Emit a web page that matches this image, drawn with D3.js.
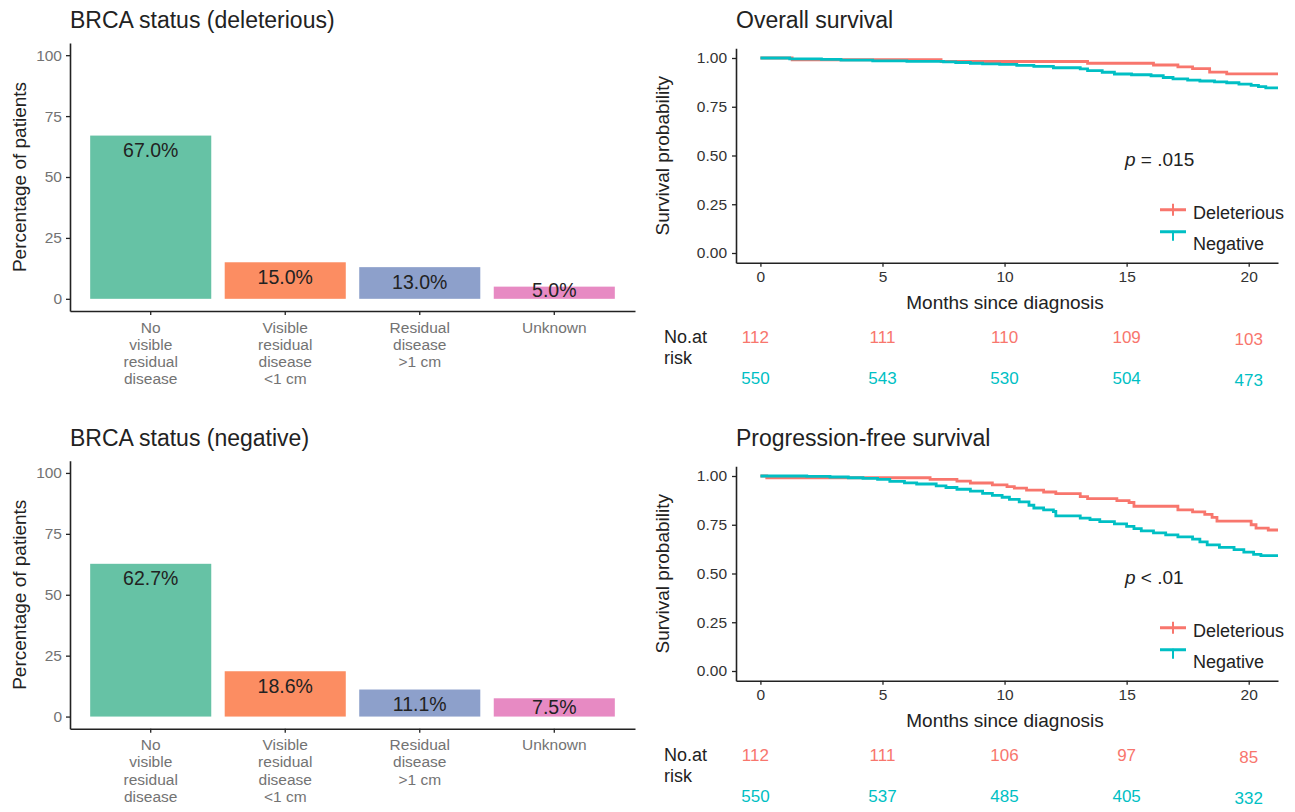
<!DOCTYPE html>
<html>
<head>
<meta charset="utf-8">
<script src="https://cdn.jsdelivr.net/npm/d3@7/dist/d3.min.js"></script>
<style>
  html, body { margin: 0; padding: 0; background: #fff; }
  svg { display: block; font-family: "Liberation Sans", Arial, Helvetica, sans-serif; }
</style>
</head>
<body>
<svg id="chart" width="1295" height="812"></svg>
<script>
// ---------------- DATA ----------------
const categories = ["No visible residual disease", "Visible residual disease <1 cm", "Residual disease >1 cm", "Unknown"];
const categoryLines = [["No", "visible", "residual", "disease"], ["Visible", "residual", "disease", "<1 cm"], ["Residual", "disease", ">1 cm"], ["Unknown"]];
const deleteriousPct = [67.0, 15.0, 13.0, 5.0];
const negativePct = [62.7, 18.6, 11.1, 7.5];
const barColors = ["#66c2a5", "#fc8d62", "#8da0cb", "#e78ac3"];
const pctTicks = [0, 25, 50, 75, 100];

const survTicks = [0, 0.25, 0.5, 0.75, 1.0];
const monthTicks = [0, 5, 10, 15, 20];
const groups = ["Deleterious", "Negative"];
const groupColors = ["#F8766D", "#00BFC4"];

// Overall survival step curves [month, survival]
const osDeleterious = [[0, 1.0], [1.3, 0.991], [7.4, 0.982], [13.4, 0.973], [16.1, 0.964], [17.1, 0.955], [17.7, 0.946], [18.4, 0.928], [19.1, 0.919]];
const osNegative = [[0, 1.0], [1.2, 0.996], [2.5, 0.993], [3.3, 0.989], [4.6, 0.985], [6.0, 0.983], [7.5, 0.980], [8.0, 0.977], [8.6, 0.973], [9.1, 0.970], [9.8, 0.967], [10.5, 0.962], [11.2, 0.957], [12.0, 0.950], [13.1, 0.944], [13.4, 0.935], [14.0, 0.927], [14.5, 0.918], [15.2, 0.914], [16.0, 0.909], [16.5, 0.900], [16.9, 0.893], [17.5, 0.887], [18.0, 0.882], [18.6, 0.878], [19.1, 0.873], [19.6, 0.866], [20.1, 0.860], [20.4, 0.853], [20.7, 0.847]];
// Progression-free survival step curves
const pfsDeleterious = [[0, 1.0], [0.26, 0.991], [6.95, 0.983], [8.05, 0.974], [8.6, 0.964], [9.5, 0.955], [10.1, 0.946], [10.4, 0.938], [10.9, 0.928], [11.6, 0.918], [12.1, 0.910], [13.1, 0.894], [13.4, 0.884], [14.6, 0.874], [15.1, 0.864], [15.3, 0.845], [17.1, 0.826], [17.7, 0.816], [18.2, 0.803], [18.5, 0.788], [18.7, 0.769], [20.1, 0.750], [20.3, 0.733], [20.8, 0.723]];
const pfsNegative = [[0, 1.0], [1.9, 0.998], [2.85, 0.995], [3.6, 0.991], [4.2, 0.988], [4.8, 0.983], [5.3, 0.972], [5.9, 0.965], [6.4, 0.959], [7.2, 0.949], [7.6, 0.941], [8.05, 0.932], [8.6, 0.922], [9.1, 0.911], [9.5, 0.901], [9.9, 0.891], [10.2, 0.880], [10.6, 0.867], [11.0, 0.850], [11.2, 0.836], [11.6, 0.826], [12.0, 0.818], [12.1, 0.796], [13.1, 0.784], [13.5, 0.776], [13.9, 0.766], [14.5, 0.754], [15.0, 0.742], [15.3, 0.730], [15.6, 0.719], [16.1, 0.708], [16.6, 0.698], [17.1, 0.688], [17.7, 0.676], [18.0, 0.662], [18.3, 0.647], [18.8, 0.634], [19.4, 0.622], [19.8, 0.610], [20.2, 0.598], [20.5, 0.592]];

const riskTimes = [0, 5, 10, 15, 20];
const osRiskDel = [112, 111, 110, 109, 103];
const osRiskNeg = [550, 543, 530, 504, 473];
const pfsRiskDel = [112, 111, 106, 97, 85];
const pfsRiskNeg = [550, 537, 485, 405, 332];

// ---------------- DRAW ----------------
const svg = d3.select("#chart");
const INK = "#222";

function barPanel(cfg) {
  const g = svg.append("g");
  const x = d3.scaleBand().domain(categories).range([70, 635]).paddingInner(0.1).paddingOuter(0.15);
  const y = d3.scaleLinear().domain([-5, 105]).range([cfg.bottom, cfg.bottom - 268]);

  g.append("text").attr("x", 70).attr("y", cfg.titleY).attr("font-size", 23).attr("fill", INK).text(cfg.title);

  g.selectAll("rect.bar").data(cfg.values).join("rect")
    .attr("x", (d, i) => x(categories[i]))
    .attr("width", x.bandwidth())
    .attr("y", d => y(d))
    .attr("height", d => y(0) - y(d))
    .attr("fill", (d, i) => barColors[i]);

  g.selectAll("text.val").data(cfg.values).join("text")
    .attr("x", (d, i) => x(categories[i]) + x.bandwidth() / 2)
    .attr("y", d => y(Math.max(d - 6, 3.8)))
    .attr("dy", "0.36em")
    .attr("text-anchor", "middle").attr("font-size", 19.5).attr("fill", INK)
    .text(d => d.toFixed(1) + "%");

  const ya = g.append("g").attr("transform", "translate(70,0)")
    .call(d3.axisLeft(y).tickValues(pctTicks).tickSize(4).tickSizeOuter(0).tickPadding(4));
  ya.select(".domain").attr("stroke", INK).attr("stroke-width", 1.6);
  ya.selectAll(".tick line").attr("stroke", INK).attr("stroke-width", 1.3);
  ya.selectAll(".tick text").attr("font-size", 15.5).attr("fill", "#737373").attr("font-family", null);

  const xa = g.append("g").attr("transform", `translate(0,${cfg.bottom})`)
    .call(d3.axisBottom(x).tickSize(4).tickSizeOuter(0));
  xa.select(".domain").attr("stroke", INK).attr("stroke-width", 1.6);
  xa.selectAll(".tick line").attr("stroke", INK).attr("stroke-width", 1.3);
  xa.selectAll(".tick text").remove();
  xa.selectAll(".tick").each(function(d, i) {
    const t = d3.select(this).append("text").attr("text-anchor", "middle")
      .attr("font-size", 15.5).attr("fill", "#737373");
    categoryLines[i].forEach((ln, k) => {
      t.append("tspan").attr("x", 0).attr("y", 16 + k * 17.2 + 5.5).text(ln);
    });
  });

  g.append("text").attr("transform", `translate(26,${(cfg.bottom + cfg.bottom - 268) / 2}) rotate(-90)`)
    .attr("text-anchor", "middle").attr("font-size", 19).attr("fill", INK).text("Percentage of patients");
}

barPanel({ title: "BRCA status (deleterious)", titleY: 28, bottom: 311, values: deleteriousPct });
barPanel({ title: "BRCA status (negative)", titleY: 446, bottom: 728.75, values: negativePct });

function kmPanel(cfg, idx) {
  const g = svg.append("g");
  const x = d3.scaleLinear().domain([-1, 21.2]).range([736, 1278]);
  const y = d3.scaleLinear().domain([-0.05, 1.05]).range([cfg.bottom, cfg.bottom - 214.5]);

  g.append("text").attr("x", 736).attr("y", cfg.titleY).attr("font-size", 23).attr("fill", INK).text(cfg.title);

  const clipId = "clip" + idx;
  svg.append("clipPath").attr("id", clipId).append("rect")
    .attr("x", 736).attr("y", cfg.bottom - 214.5).attr("width", 542).attr("height", 214.5);

  const line = d3.line().x(d => x(d[0])).y(d => y(d[1])).curve(d3.curveStepAfter);
  cfg.curves.forEach((c, i) => {
    const pts = c.concat([[x.domain()[1], c[c.length - 1][1]]]);
    g.append("path").attr("d", line(pts)).attr("fill", "none")
      .attr("stroke", groupColors[i]).attr("stroke-width", 2.8)
      .attr("clip-path", `url(#${clipId})`);
  });

  const ya = g.append("g").attr("transform", "translate(736,0)")
    .call(d3.axisLeft(y).tickValues(survTicks).tickFormat(d3.format(".2f")).tickSize(4).tickSizeOuter(0).tickPadding(5));
  ya.select(".domain").attr("stroke", INK).attr("stroke-width", 1.6);
  ya.selectAll(".tick line").attr("stroke", INK).attr("stroke-width", 1.3);
  ya.selectAll(".tick text").attr("font-size", 15.5).attr("fill", "#333").attr("font-family", null);

  const xa = g.append("g").attr("transform", `translate(0,${cfg.bottom})`)
    .call(d3.axisBottom(x).tickValues(monthTicks).tickSize(4).tickSizeOuter(0).tickPadding(4));
  xa.select(".domain").attr("stroke", INK).attr("stroke-width", 1.6);
  xa.selectAll(".tick line").attr("stroke", INK).attr("stroke-width", 1.3);
  xa.selectAll(".tick text").attr("font-size", 15.5).attr("fill", "#333").attr("font-family", null);

  g.append("text").attr("x", 1005).attr("y", cfg.bottom + 46).attr("text-anchor", "middle")
    .attr("font-size", 19).attr("fill", INK).text("Months since diagnosis");
  g.append("text").attr("transform", `translate(669,${cfg.bottom - 107}) rotate(-90)`)
    .attr("text-anchor", "middle").attr("font-size", 19).attr("fill", INK).text("Survival probability");

  // p-value
  const pt = g.append("text").attr("x", 1125).attr("y", cfg.bottom - 97).attr("font-size", 19).attr("fill", INK);
  pt.append("tspan").attr("font-style", "italic").text("p");
  pt.append("tspan").text(cfg.pText);

  // legend
  const ly = [cfg.bottom - 53, cfg.bottom - 31];
  const ty = [cfg.bottom - 50, cfg.bottom - 19];
  groups.forEach((gr, i) => {
    g.append("line").attr("x1", 1160).attr("x2", 1186).attr("y1", ly[i]).attr("y2", ly[i])
      .attr("stroke", groupColors[i]).attr("stroke-width", 3);
    g.append("line").attr("x1", 1173).attr("x2", 1173).attr("y1", ly[i] - (i ? 1 : 6)).attr("y2", ly[i] + (i ? 9 : 6))
      .attr("stroke", groupColors[i]).attr("stroke-width", 2);
    g.append("text").attr("x", 1193).attr("y", ty[i]).attr("dy", "0.36em")
      .attr("font-size", 18).attr("fill", INK).text(gr);
  });

  // risk table
  g.append("text").attr("x", 664).attr("y", cfg.bottom + 74).attr("dy", "0.36em")
    .attr("font-size", 18).attr("fill", INK).text("No.at");
  g.append("text").attr("x", 664).attr("y", cfg.bottom + 95).attr("dy", "0.36em")
    .attr("font-size", 18).attr("fill", INK).text("risk");
  [cfg.riskDel, cfg.riskNeg].forEach((row, r) => {
    g.selectAll(null).data(row).join("text")
      .attr("x", (d, i) => x(riskTimes[i]) - (i === 0 ? 5 : 0))
      .attr("y", (d, i) => cfg.bottom + (r ? 115 : 74) + (i === 4 ? 2.5 : 0))
      .attr("dy", "0.36em").attr("text-anchor", "middle")
      .attr("font-size", 17).attr("fill", groupColors[r]).text(d => d);
  });
}

kmPanel({ title: "Overall survival", titleY: 28, bottom: 262.75, curves: [osDeleterious, osNegative], pText: " = .015", riskDel: osRiskDel, riskNeg: osRiskNeg }, 0);
kmPanel({ title: "Progression-free survival", titleY: 446, bottom: 680.75, curves: [pfsDeleterious, pfsNegative], pText: " < .01", riskDel: pfsRiskDel, riskNeg: pfsRiskNeg }, 1);
</script>
</body>
</html>
